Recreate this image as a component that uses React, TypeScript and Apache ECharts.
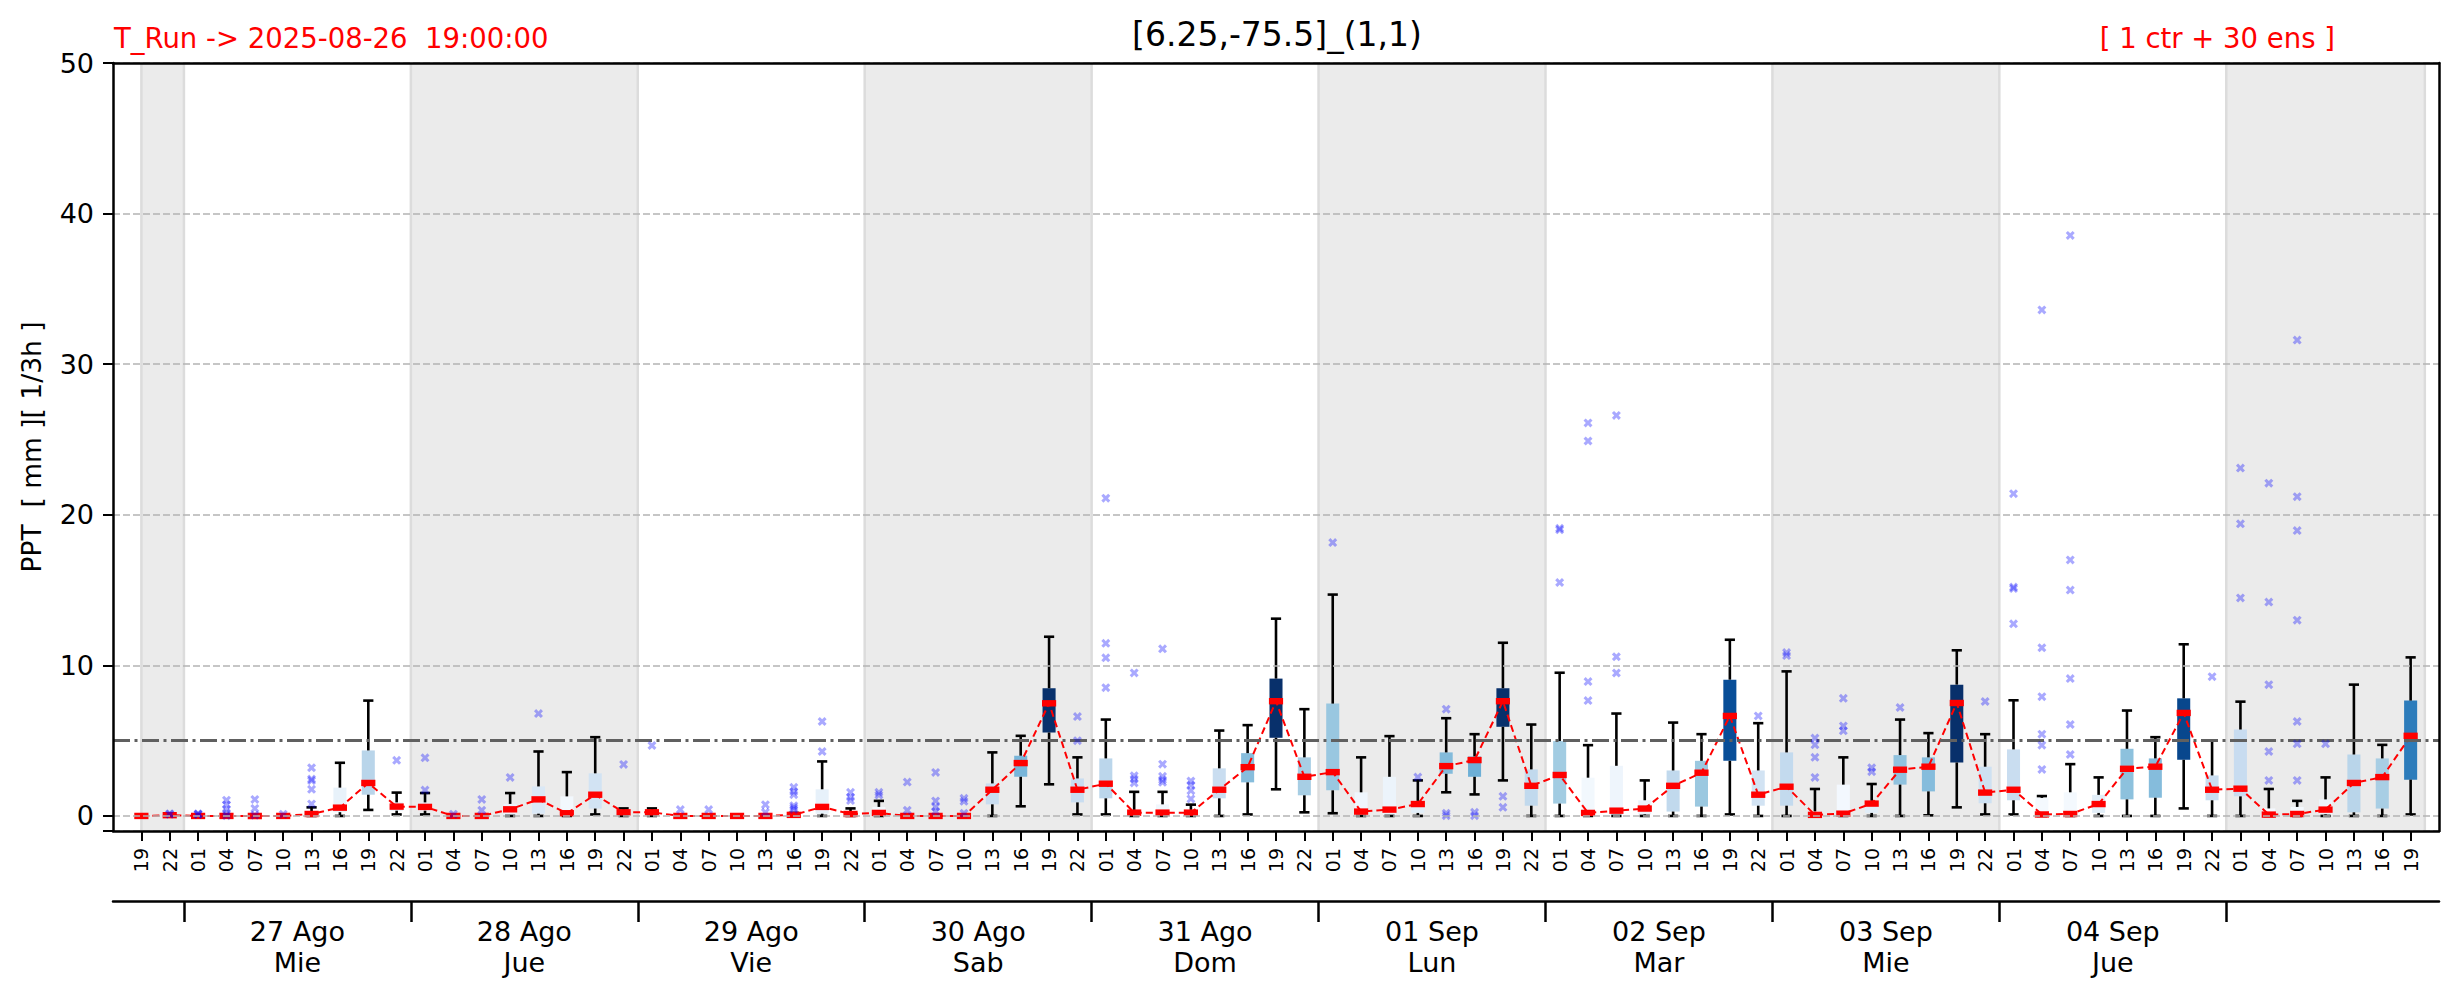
import React, { useEffect, useRef } from 'react';
import * as echarts from 'echarts';

// ---- tick labels -------------------------------------------------------
const hourLabels = [
  '19', '22',
  '01', '04', '07', '10', '13', '16', '19', '22',
  '01', '04', '07', '10', '13', '16', '19', '22',
  '01', '04', '07', '10', '13', '16', '19', '22',
  '01', '04', '07', '10', '13', '16', '19', '22',
  '01', '04', '07', '10', '13', '16', '19', '22',
  '01', '04', '07', '10', '13', '16', '19', '22',
  '01', '04', '07', '10', '13', '16', '19', '22',
  '01', '04', '07', '10', '13', '16', '19', '22',
  '01', '04', '07', '10', '13', '16', '19', '22',
  '01', '04', '07', '10', '13', '16', '19',
];
const dayLabels = [
  '27 Ago\nMie', '28 Ago\nJue', '29 Ago\nVie', '30 Ago\nSab', '31 Ago\nDom',
  '01 Sep\nLun', '02 Sep\nMar', '03 Sep\nMie', '04 Sep\nJue',
];
// day boundaries (midnight) and day centres, in time-step units
const dayBoundaries = [1.5, 9.5, 17.5, 25.5, 33.5, 41.5, 49.5, 57.5, 65.5, 73.5];
const dayCentres = [5.5, 13.5, 21.5, 29.5, 37.5, 45.5, 53.5, 61.5, 69.5];
// shaded (alternate) days
const shadedDays: [number, number][] = [
  [0, 1.5], [9.5, 17.5], [25.5, 33.5], [41.5, 49.5], [57.5, 65.5], [73.5, 80.5],
];

// ---- box statistics per time step ---------------------------------------
const lows = [
  0, 0, 0, 0, 0, 0, 0, 0, 0.4, 0.1,
  0.1, 0, 0, 0, 0, 0, 0.1, 0, 0, 0,
  0, 0, 0, 0, 0, 0, 0, 0, 0, 0,
  0, 0.64, 2.1, 0.1, 0.1, 0, 0, 0, 0, 0.1,
  1.77, 0.24, 0.18, 0, 0, 0, 1.57, 1.43, 2.36, 0,
  0, 0, 0, 0, 0, 0, 0.1, 0, 0, 0,
  0, 0, 0, 0.04, 0.57, 0.1, 0.1, 0, 0, 0,
  0, 0, 0.5, 0, 0, 0, 0, 0, 0, 0,
  0.1,
];
const q1s = [
  0, 0, 0, 0, 0, 0, 0, 0.25, 1.41, 0.35,
  0.35, 0, 0, 0.05, 0.15, 0.05, 0.49, 0.05, 0.05, 0,
  0, 0, 0, 0, 0.15, 0.05, 0.05, 0, 0, 0,
  0.77, 2.6, 5.54, 0.9, 1.17, 0.05, 0.05, 0.05, 1.17, 2.23,
  5.19, 1.37, 1.7, 0.05, 0.05, 0.2, 2.8, 2.6, 5.92, 0.68,
  0.82, 0.05, 0.05, 0.1, 0.29, 0.62, 3.66, 0.68, 0.68, 0.02,
  0.05, 0.2, 2.08, 1.63, 3.55, 0.84, 1.04, 0.05, 0.05, 0.2,
  1.1, 1.21, 3.73, 1.04, 1.3, 0.02, 0.02, 0.1, 0.24, 0.49,
  2.41,
];
const medians = [
  0, 0.05, 0, 0, 0, 0, 0.13, 0.55, 2.19, 0.62,
  0.6, 0, 0, 0.44, 1.1, 0.18, 1.41, 0.24, 0.24, 0,
  0, 0, 0, 0.07, 0.6, 0.13, 0.2, 0, 0, 0,
  1.74, 3.51, 7.48, 1.74, 2.14, 0.22, 0.22, 0.22, 1.74, 3.24,
  7.62, 2.6, 2.91, 0.29, 0.42, 0.79, 3.31, 3.71, 7.62, 2.0,
  2.72, 0.2, 0.35, 0.49, 2.0, 2.87, 6.64, 1.41, 1.94, 0.07,
  0.15, 0.82, 3.07, 3.27, 7.5, 1.55, 1.74, 0.1, 0.13, 0.79,
  3.13, 3.27, 6.84, 1.74, 1.81, 0.09, 0.13, 0.42, 2.19, 2.58,
  5.32,
];
const q3s = [
  0, 0.08, 0, 0, 0, 0, 0.3, 1.88, 4.35, 0.9,
  0.9, 0, 0, 0.8, 1.96, 1.3, 2.83, 0.4, 0.4, 0,
  0, 0, 0, 0.1, 1.77, 0.3, 0.6, 0, 0, 0,
  2.16, 4.0, 8.48, 2.49, 3.82, 0.4, 0.77, 0.4, 3.16, 4.17,
  9.12, 3.89, 7.46, 1.57, 2.6, 1.0, 4.22, 3.95, 8.48, 3.09,
  4.97, 2.54, 3.33, 1.04, 3.02, 3.66, 9.05, 3.02, 4.22, 0.3,
  2.08, 1.0, 4.04, 3.89, 8.72, 3.27, 4.42, 1.2, 1.57, 1.4,
  4.46, 3.82, 7.81, 2.69, 5.74, 0.5, 0.6, 1.1, 4.08, 3.82,
  7.66,
];
const highs = [
  0, 0.1, 0, 0, 0, 0, 0.57, 3.53, 7.66, 1.55,
  1.52, 0, 0, 1.52, 4.28, 2.91, 5.23, 0.5, 0.5, 0,
  0, 0, 0, 0.2, 3.62, 0.5, 1.0, 0, 0, 0,
  4.22, 5.32, 11.9, 3.89, 6.4, 1.6, 1.6, 0.75, 5.67, 6.03,
  13.1, 7.09, 14.7, 3.89, 5.3, 2.36, 6.49, 5.43, 11.5, 6.07,
  9.51, 4.7, 6.8, 2.36, 6.2, 5.43, 11.7, 6.16, 9.6, 1.79,
  3.89, 2.12, 6.4, 5.5, 11.0, 5.43, 7.68, 1.32, 3.44, 2.56,
  7.0, 5.23, 11.4, 5.0, 7.59, 1.79, 1.0, 2.56, 8.72, 4.72,
  10.53,
];
const outliers: number[][] = [
  [], [0.15, 0.12], [0.12, 0.1, 0.15], [1.05, 0.75, 0.45, 0.2, 0.02], [1.1, 0.5, 0.05],
  [0.12], [3.2, 2.45, 2.35, 1.77, 0.8], [], [], [3.69],
  [3.86, 1.72], [0.12], [1.1, 0.38], [2.56], [6.8],
  [], [], [3.42], [4.68], [0.42],
  [0.42], [], [0.75, 0.24], [1.9, 1.62, 1.41, 0.68, 0.55, 0.42], [6.27, 4.28],
  [1.57, 1.24, 1.02], [1.57, 1.39], [2.25, 0.38], [2.89, 1.0, 0.6, 0.3], [1.17, 0.97, 0.18],
  [], [], [], [6.6, 5.0], [21.1, 11.46, 10.5, 8.52],
  [9.5, 2.67, 2.45, 2.19], [11.1, 3.44, 2.63, 2.4, 2.23], [2.32, 2.05, 1.68, 1.13], [], [],
  [], [], [18.15], [], [],
  [2.58], [7.09, 0.18, 0.02], [0.24, 0.02], [1.3, 0.57], [],
  [19.1, 19.0, 15.5], [26.1, 24.9, 8.92, 7.66], [26.6, 10.57, 9.49], [], [],
  [], [], [6.64], [10.85, 10.65], [5.17, 4.72, 3.89, 2.56],
  [7.81, 5.98, 5.65], [3.2, 2.94], [7.2], [], [],
  [7.6], [21.4, 15.2, 15.1, 12.76], [33.6, 11.17, 7.92, 5.43, 4.7, 3.09], [38.55, 17.0, 15.0, 9.12, 6.07, 4.08], [],
  [], [], [], [9.25], [23.1, 19.4, 14.48],
  [22.1, 14.2, 8.72, 4.28, 2.36], [31.6, 21.2, 18.95, 13.0, 6.27, 4.79, 2.36], [4.79], [], [],
  [],
];
const threshold = 5;

// ---- colour map (matplotlib "Blues") ---------------------------------------
const BLUES = ['#f7fbff', '#deebf7', '#c6dbef', '#9ecae1', '#6baed6', '#4292c6', '#2171b5', '#08519c', '#08306b'];
function hexToRgb(h: string) {
  return [parseInt(h.slice(1, 3), 16), parseInt(h.slice(3, 5), 16), parseInt(h.slice(5, 7), 16)];
}
function blues(t: number) {
  const tt = Math.max(0, Math.min(1, t));
  const p = tt * (BLUES.length - 1);
  const i = Math.min(BLUES.length - 2, Math.floor(p));
  const f = p - i;
  const a = hexToRgb(BLUES[i]);
  const b = hexToRgb(BLUES[i + 1]);
  const c = a.map((v, k) => Math.round(v + (b[k] - v) * f));
  return `rgb(${c[0]},${c[1]},${c[2]})`;
}
const boxColors = medians.map((m) => blues(m / 7.5));

const FONT = 'DejaVu Sans';
const FRAME = { color: '#000', width: 2.5 };

export default function App() {
  const ref = useRef<HTMLDivElement>(null);
  useEffect(() => {
    document.body.style.margin = '0';
    document.body.style.overflow = 'hidden';
    if (!ref.current) return;
    const chart = echarts.init(ref.current, undefined, { renderer: 'svg' });

    // category axis for hour labels: one padding slot on each side
    const hourAxisData = ['', ...hourLabels, ''];
    // half-step category axis for day boundaries / day labels
    const nHalf = (hourLabels.length + 1) * 2 + 1; // positions -1 .. 81 in 0.5 steps
    const dayAxisData: string[] = [];
    const boundaryIdx = new Set(dayBoundaries.map((b) => Math.round((b + 1) * 2)));
    const centreMap = new Map<number, string>();
    dayCentres.forEach((c, k) => centreMap.set(Math.round((c + 1) * 2), dayLabels[k]));
    for (let k = 0; k < nHalf; k++) dayAxisData.push(centreMap.get(k) ?? '');

    const boxData = hourLabels.map((_, i) => [i, lows[i], q1s[i], medians[i], q3s[i], highs[i]]);
    const outlierData: number[][] = [];
    outliers.forEach((arr, i) => arr.forEach((v) => outlierData.push([i, v])));

    const option: any = {
      animation: false,
      textStyle: { fontFamily: FONT },
      grid: { left: 113, top: 63, right: 20, bottom: 170, show: false },
      xAxis: [
        {
          type: 'value', min: -1, max: 81, position: 'top', z: 10,
          axisLine: { show: true, onZero: false, lineStyle: FRAME },
          axisTick: { show: false }, axisLabel: { show: false }, splitLine: { show: false },
        },
        {
          type: 'category', data: hourAxisData, boundaryGap: false, position: 'bottom', z: 10,
          axisLine: { show: true, onZero: false, lineStyle: FRAME },
          axisTick: {
            show: true, length: 10, interval: (_i: number, v: string) => v !== '',
            lineStyle: { color: '#000', width: 2 },
          },
          axisLabel: { interval: 0, rotate: 90, fontSize: 19, color: '#000', margin: 17, fontFamily: FONT },
          splitLine: { show: false },
        },
        {
          type: 'category', data: dayAxisData, boundaryGap: false, position: 'bottom', offset: 70,
          axisLine: { show: true, onZero: false, lineStyle: FRAME },
          axisTick: {
            show: true, length: 21, interval: (i: number) => boundaryIdx.has(i),
            lineStyle: { color: '#000', width: 2.5 },
          },
          axisLabel: {
            interval: (_i: number, v: string) => v !== '', fontSize: 27, lineHeight: 31,
            color: '#000', margin: 15, fontFamily: FONT,
          },
          splitLine: { show: false },
        },
      ],
      yAxis: [
        {
          type: 'value', min: -1, max: 50, splitNumber: 5, position: 'left', z: 10,
          axisLine: { show: true, onZero: false, lineStyle: FRAME },
          axisTick: { show: true, length: 10, lineStyle: { color: '#000', width: 2 } },
          axisLabel: {
            fontSize: 27, color: '#000', margin: 19, fontFamily: FONT,
            formatter: (v: number) => (v % 10 === 0 ? String(v) : ''),
          },
          splitLine: { show: true, lineStyle: { type: [7, 3], color: '#b4b4b4', width: 1.5 } },
        },
        {
          type: 'value', min: -1, max: 50, position: 'right', z: 10,
          axisLine: { show: true, onZero: false, lineStyle: FRAME },
          axisTick: { show: false }, axisLabel: { show: false }, splitLine: { show: false },
        },
      ],
      graphic: [
        {
          type: 'text', x: 1277, y: 34,
          style: { text: '[6.25,-75.5]_(1,1)', fontSize: 33, fontFamily: FONT, fill: '#000', align: 'center', verticalAlign: 'middle' },
        },
        {
          type: 'text', x: 114, y: 38,
          style: { text: 'T_Run -> 2025-08-26  19:00:00', fontSize: 27.5, fontFamily: FONT, fill: '#ff0000', align: 'left', verticalAlign: 'middle' },
        },
        {
          type: 'text', x: 2335, y: 38,
          style: { text: '[ 1 ctr + 30 ens ]', fontSize: 27.5, fontFamily: FONT, fill: '#ff0000', align: 'right', verticalAlign: 'middle' },
        },
        {
          type: 'text', x: 31, y: 447, rotation: Math.PI / 2,
          style: { text: 'PPT  [ mm ][ 1/3h ]', fontSize: 26.5, fontFamily: FONT, fill: '#000', align: 'center', verticalAlign: 'middle' },
        },
      ],
      series: [
        {
          type: 'custom', name: 'bands', xAxisIndex: 0, yAxisIndex: 0, z: -1, silent: true,
          data: shadedDays,
          encode: { x: [0, 1] },
          renderItem: (_p: any, api: any) => {
            const a = api.coord([api.value(0), 50]);
            const b = api.coord([api.value(1), -1]);
            return {
              type: 'group',
              children: [
                { type: 'rect', shape: { x: a[0], y: a[1], width: b[0] - a[0], height: b[1] - a[1] }, style: { fill: '#ebebeb' } },
                { type: 'line', shape: { x1: a[0], y1: a[1], x2: a[0], y2: b[1] }, style: { stroke: '#dcdcdc', lineWidth: 2.5 } },
                { type: 'line', shape: { x1: b[0], y1: a[1], x2: b[0], y2: b[1] }, style: { stroke: '#dcdcdc', lineWidth: 2.5 } },
              ],
            };
          },
        },
        {
          type: 'line', name: 'threshold', xAxisIndex: 0, yAxisIndex: 0, z: 1, data: [],
          markLine: {
            silent: true, symbol: ['none', 'none'], label: { show: false },
            lineStyle: { color: '#606060', width: 2.8, type: [17, 4.5, 3, 4.5] },
            data: [{ yAxis: threshold }],
          },
        },
        {
          type: 'custom', name: 'boxes', xAxisIndex: 0, yAxisIndex: 0, z: 3,
          data: boxData,
          encode: { x: 0, y: [1, 2, 3, 4, 5] },
          renderItem: (params: any, api: any) => {
            const x = api.value(0);
            const pLow = api.coord([x, api.value(1)]);
            const pQ1 = api.coord([x, api.value(2)]);
            const pMed = api.coord([x, api.value(3)]);
            const pQ3 = api.coord([x, api.value(4)]);
            const pHigh = api.coord([x, api.value(5)]);
            const band = api.size([1, 0])[0];
            const cx = pMed[0];
            const boxW = band * 0.46;
            const capW = band * 0.36;
            const medW = band * 0.5;
            const stroke = { stroke: '#000', lineWidth: 2.6 };
            const children: any[] = [];
            if (pQ1[1] - pQ3[1] > 0.5) {
              children.push({
                type: 'rect',
                shape: { x: cx - boxW / 2, y: pQ3[1], width: boxW, height: pQ1[1] - pQ3[1] },
                style: { fill: boxColors[params.dataIndex] },
              });
            }
            children.push({ type: 'line', shape: { x1: cx, y1: pQ1[1], x2: cx, y2: pLow[1] }, style: stroke });
            children.push({ type: 'line', shape: { x1: cx, y1: pQ3[1], x2: cx, y2: pHigh[1] }, style: stroke });
            children.push({ type: 'line', shape: { x1: cx - capW / 2, y1: pLow[1], x2: cx + capW / 2, y2: pLow[1] }, style: stroke });
            children.push({ type: 'line', shape: { x1: cx - capW / 2, y1: pHigh[1], x2: cx + capW / 2, y2: pHigh[1] }, style: stroke });
            children.push({
              type: 'rect',
              shape: { x: cx - medW / 2, y: pMed[1] - 3.2, width: medW, height: 6.4 },
              style: { fill: '#ff0000' },
            });
            return { type: 'group', children };
          },
        },
        {
          type: 'line', name: 'median', xAxisIndex: 0, yAxisIndex: 0, z: 4,
          data: medians.map((m, i) => [i, m]),
          symbol: 'none',
          lineStyle: { color: '#ff0000', width: 2, type: [7, 4] },
        },
        {
          type: 'scatter', name: 'outliers', xAxisIndex: 0, yAxisIndex: 0, z: 5,
          data: outlierData,
          symbol: 'path://M0,2.4L2.4,0L5,2.6L7.6,0L10,2.4L7.4,5L10,7.6L7.6,10L5,7.4L2.4,10L0,7.6L2.6,5Z',
          symbolSize: 9,
          itemStyle: { color: 'rgba(0,0,255,0.42)' },
        },
      ],
    };
    chart.setOption(option);
    return () => chart.dispose();
  }, []);
  return <div ref={ref} style={{ width: 2459, height: 1001 }} />;
}
